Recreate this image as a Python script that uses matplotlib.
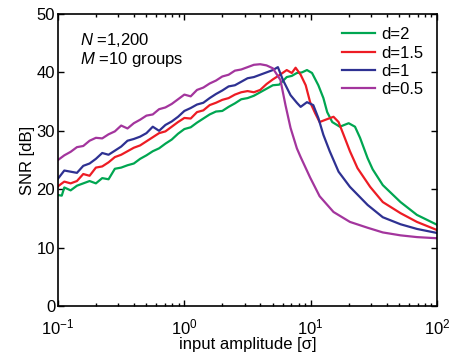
import numpy as np
import matplotlib
matplotlib.use('Agg')
import matplotlib.pyplot as plt
from matplotlib.ticker import LogLocator, NullFormatter

plt.rcParams['font.family'] = ['Liberation Sans', 'DejaVu Sans']
plt.rcParams['mathtext.fontset'] = 'custom'
plt.rcParams['mathtext.rm'] = 'Liberation Sans'
plt.rcParams['mathtext.it'] = 'Liberation Sans:italic'

# log10(input amplitude) and SNR [dB]
logx_d05 = [-1.00, -0.95, -0.90, -0.85, -0.80, -0.75, -0.70, -0.65, -0.60, -0.55,
            -0.50, -0.45, -0.40, -0.35, -0.30, -0.25, -0.20, -0.15, -0.10, -0.05,
            0.00, 0.05, 0.10, 0.15, 0.20, 0.25, 0.30, 0.35, 0.40, 0.45,
            0.50, 0.55, 0.60, 0.65, 0.70, 0.76, 0.80, 0.84, 0.89, 0.92,
            0.995, 1.07, 1.18, 1.31, 1.45, 1.57, 1.71, 1.84, 2.00]
snr_d05 = [25.0, 25.8, 26.4, 27.2, 27.4, 28.3, 28.8, 28.7, 29.4, 29.9,
           30.9, 30.4, 31.3, 31.9, 32.6, 32.8, 33.7, 34.0, 34.6, 35.4,
           36.2, 35.9, 37.0, 37.4, 38.1, 38.6, 39.3, 39.6, 40.3, 40.5,
           40.9, 41.3, 41.4, 41.2, 40.7, 38.7, 34.4, 30.5, 27.0, 25.5,
           22.0, 18.8, 16.1, 14.4, 13.4, 12.6, 12.1, 11.8, 11.6]

logx_d1 = [-1.00, -0.95, -0.90, -0.85, -0.80, -0.75, -0.70, -0.65, -0.60, -0.55,
           -0.50, -0.45, -0.40, -0.35, -0.30, -0.25, -0.20, -0.15, -0.10, -0.05,
           0.00, 0.05, 0.10, 0.15, 0.20, 0.25, 0.30, 0.35, 0.40, 0.45,
           0.50, 0.55, 0.60, 0.65, 0.70, 0.74, 0.78, 0.84, 0.89, 0.92,
           0.97, 1.02, 1.06, 1.10, 1.15, 1.22, 1.31, 1.45, 1.57, 1.71,
           1.84, 2.00]
snr_d1 = [21.8, 23.2, 23.0, 22.8, 24.0, 24.4, 25.2, 26.2, 25.9, 26.6,
          27.3, 28.3, 28.6, 29.0, 29.6, 30.7, 30.0, 31.0, 31.6, 32.4,
          33.4, 33.9, 34.5, 34.8, 35.6, 36.3, 36.9, 37.6, 37.8, 38.4,
          39.0, 39.2, 39.6, 40.0, 40.4, 40.9, 38.7, 36.1, 34.8, 34.1,
          34.9, 34.4, 32.2, 29.3, 26.5, 23.0, 20.4, 17.3, 15.2, 14.0,
          13.2, 12.5]

logx_d15 = [-1.00, -0.95, -0.90, -0.85, -0.80, -0.75, -0.70, -0.65, -0.60, -0.55,
            -0.50, -0.45, -0.40, -0.35, -0.30, -0.25, -0.20, -0.15, -0.10, -0.05,
            0.00, 0.05, 0.10, 0.15, 0.20, 0.25, 0.30, 0.35, 0.40, 0.45,
            0.50, 0.55, 0.60, 0.65, 0.70, 0.75, 0.81, 0.85, 0.88, 0.92,
            0.96, 0.995, 1.035, 1.07, 1.13, 1.18, 1.22, 1.26, 1.31, 1.37,
            1.47, 1.57, 1.71, 1.84, 2.00]
snr_d15 = [20.5, 21.3, 21.0, 21.4, 22.6, 22.3, 23.7, 23.9, 24.6, 25.5,
           25.9, 26.5, 27.1, 27.5, 28.2, 28.9, 29.6, 29.9, 30.7, 31.5,
           32.2, 32.1, 33.2, 33.5, 34.4, 34.8, 35.3, 35.6, 36.2, 36.6,
           36.8, 36.6, 37.0, 38.0, 38.8, 39.5, 40.4, 39.9, 40.8, 39.6,
           37.8, 34.9, 33.0, 31.5, 32.0, 32.4, 31.5, 29.3, 26.5, 23.6,
           20.4, 17.8, 15.9, 14.4, 13.0]

logx_d2 = [-1.00, -0.97, -0.95, -0.90, -0.85, -0.80, -0.75, -0.70, -0.65, -0.60,
           -0.55, -0.50, -0.45, -0.40, -0.35, -0.30, -0.25, -0.20, -0.15, -0.10,
           -0.05, 0.00, 0.05, 0.10, 0.15, 0.20, 0.25, 0.30, 0.35, 0.40,
           0.45, 0.50, 0.55, 0.60, 0.65, 0.70, 0.75, 0.81, 0.85, 0.89,
           0.93, 0.97, 1.01, 1.06, 1.10, 1.13, 1.17, 1.23, 1.30, 1.35,
           1.39, 1.45, 1.49, 1.57, 1.71, 1.84, 2.00]
snr_d2 = [19.0, 18.9, 20.3, 19.8, 20.6, 21.0, 21.4, 21.0, 21.9, 21.7,
          23.5, 23.7, 24.1, 24.4, 25.2, 25.8, 26.5, 27.0, 27.8, 28.5,
          29.5, 30.3, 30.6, 31.4, 32.1, 32.8, 33.3, 33.4, 34.1, 34.7,
          35.4, 35.6, 36.0, 36.6, 37.2, 37.8, 37.9, 39.2, 39.4, 39.9,
          40.0, 40.4, 39.9, 37.8, 35.6, 33.2, 31.5, 30.7, 31.3, 30.7,
          28.8, 25.3, 23.4, 20.7, 17.8, 15.6, 13.9]

labels = ['d=2', 'd=1.5', 'd=1', 'd=0.5']
colors = ['#00a651', '#ed1c24', '#2e3192', '#a3359d']
series = [(logx_d2, snr_d2), (logx_d15, snr_d15), (logx_d1, snr_d1), (logx_d05, snr_d05)]

fig = plt.figure(figsize=(4.53, 3.56), dpi=100)
ax = fig.add_axes([0.128, 0.1404, 0.837, 0.8203])

for (lx, y), lab, c in zip(series, labels, colors):
    ax.plot(10 ** np.array(lx), y, color=c, lw=1.6, label=lab)

ax.set_xscale('log')
ax.set_xlim(0.1, 100)
ax.set_ylim(0, 50)
ax.set_yticks([0, 10, 20, 30, 40, 50])
ax.xaxis.set_minor_locator(LogLocator(base=10, subs=np.arange(2, 10)))
ax.xaxis.set_minor_formatter(NullFormatter())
ax.tick_params(which='both', direction='in', top=True, right=True, labelsize=12,
               width=1.0)
ax.tick_params(which='major', length=4)
ax.tick_params(which='minor', length=2)
ax.tick_params(axis='x', pad=8)
ax.tick_params(axis='y', pad=2)
for s in ax.spines.values():
    s.set_linewidth(1.2)

ax.set_xlabel('input amplitude [σ]', fontsize=12, labelpad=0)
ax.set_ylabel('SNR [dB]', fontsize=12, labelpad=1)

ax.text(0.058, 0.895, '$N$ =1,200', transform=ax.transAxes, fontsize=12)
ax.text(0.058, 0.83, '$M$ =10 groups', transform=ax.transAxes, fontsize=12)

ax.legend(loc='upper right', frameon=False, fontsize=12, handlelength=2.0,
          handletextpad=0.4, labelspacing=0.2, borderaxespad=0.4)

fig.savefig('out.png', dpi=100)
